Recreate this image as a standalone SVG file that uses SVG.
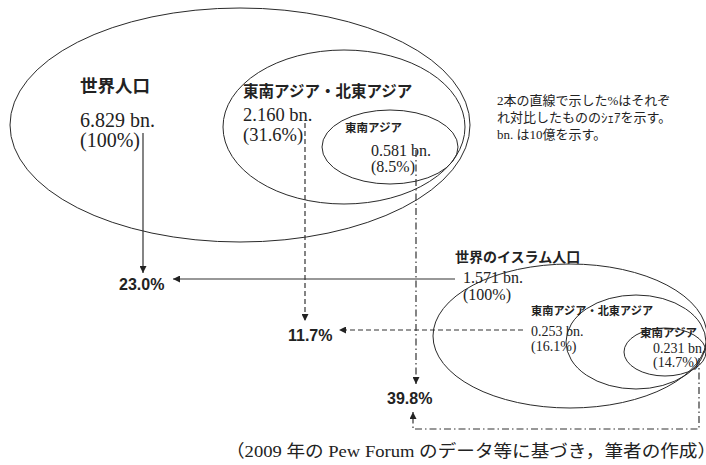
<svg xmlns="http://www.w3.org/2000/svg" width="706" height="465" viewBox="0 0 706 465">
<defs>
<style>
.ell{fill:none;stroke:#2a2a2a;stroke-width:1}
.ln{fill:none;stroke:#333;stroke-width:1.2}
.dash{stroke-dasharray:5,3}
.dd{stroke-dasharray:7,3,1.5,3}
.jb{font-family:"Noto Sans CJK JP",sans-serif;font-weight:700;fill:#222}
.num{font-family:"Liberation Serif","Noto Sans CJK JP",serif;fill:#222}
.pct{font-family:"Liberation Sans",sans-serif;font-weight:700;font-size:16px;fill:#222}
.note{font-family:"Liberation Serif","Noto Sans CJK JP",serif;font-size:13px;fill:#222}
</style>
<marker id="ah" viewBox="0 0 10 10" refX="10" refY="5" markerWidth="7" markerHeight="7" markerUnits="userSpaceOnUse" orient="auto">
<path d="M0,0 L10,5 L0,10 z" fill="#222"/>
</marker>
</defs>
<rect width="706" height="465" fill="#fff"/>

<g id="world">
<ellipse class="ell" cx="240" cy="125" rx="230" ry="117"/>
<text class="jb" x="80" y="92" font-size="17.5">世界人口</text>
<text class="num" x="80" y="127" font-size="20">6.829 bn.</text>
<text class="num" x="80" y="147" font-size="20">(100%)</text>
</g>
<g id="world-asia">
<ellipse class="ell" cx="344" cy="127" rx="121" ry="77"/>
<text class="jb" x="243" y="97" font-size="15.5">東南アジア・北東アジア</text>
<text class="num" x="243" y="121" font-size="18.5">2.160 bn.</text>
<text class="num" x="243" y="141" font-size="18.5">(31.6%)</text>
</g>
<g id="world-sea">
<ellipse class="ell" cx="390" cy="147" rx="68" ry="37"/>
<text class="jb" x="345" y="132" font-size="11.5">東南アジア</text>
<text class="num" x="371" y="156" font-size="16">0.581 bn.</text>
<text class="num" x="371" y="172" font-size="16">(8.5%)</text>
</g>
<g id="note">
<text class="note" x="497" y="105">2本の直線で示した%はそれぞ</text>
<text class="note" x="497" y="122">れ対比したもののｼｪｱを示す。</text>
<text class="note" x="497" y="139">bn. は10億を示す。</text>
</g>

<g id="islam">
<ellipse class="ell" cx="570" cy="336" rx="137" ry="72"/>
<text class="jb" x="455" y="262" font-size="14">世界のイスラム人口</text>
<text class="num" x="463" y="283" font-size="16">1.571 bn.</text>
<text class="num" x="463" y="300" font-size="16">(100%)</text>
</g>
<g id="islam-asia">
<ellipse class="ell" cx="636" cy="342" rx="70" ry="47"/>
<text class="jb" x="531" y="315" font-size="11.2">東南アジア・北東アジア</text>
<text class="num" x="531" y="336" font-size="14">0.253 bn.</text>
<text class="num" x="531" y="351" font-size="14">(16.1%)</text>
</g>
<g id="islam-sea">
<ellipse class="ell" cx="665" cy="352" rx="41" ry="24"/>
<text class="jb" x="640" y="337" font-size="11.5">東南アジア</text>
<text class="num" x="653" y="353" font-size="14">0.231 bn.</text>
<text class="num" x="653" y="367" font-size="14">(14.7%)</text>
</g>

<g id="results">
<text class="pct" x="119" y="290">23.0%</text>
<text class="pct" x="288" y="341">11.7%</text>
<text class="pct" x="387" y="404">39.8%</text>
</g>

<g id="connectors">
<path class="ln" d="M143,133 V273" marker-end="url(#ah)"/>
<path class="ln" d="M455,279 H173" marker-end="url(#ah)"/>
<path class="ln dash" d="M305,123 V321" marker-end="url(#ah)"/>
<path class="ln dash" d="M523,330 H339" marker-end="url(#ah)"/>
<path class="ln dd" d="M416,150 V384" marker-end="url(#ah)"/>
<path class="ln dd" d="M699,358 V429 H413 V412" marker-end="url(#ah)"/>
</g>

<text class="num" x="226" y="457" font-size="17.5" textLength="490" lengthAdjust="spacingAndGlyphs">（2009 年の Pew Forum のデータ等に基づき，筆者の作成）</text>
</svg>
